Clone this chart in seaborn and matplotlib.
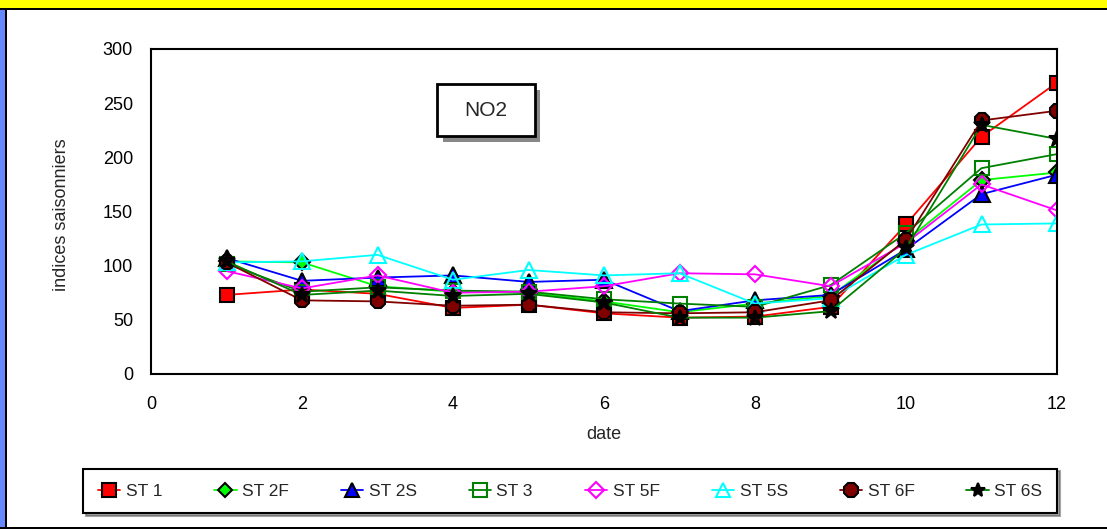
import matplotlib
matplotlib.use("Agg")
import matplotlib.pyplot as plt
import matplotlib.patheffects as pe
from matplotlib.patches import Rectangle
import seaborn as sns
import pandas as pd

months = [1, 2, 3, 4, 5, 6, 7, 8, 9, 10, 11, 12]
st1 = [73, 78, 74, 61, 64, 56, 52, 53, 62, 138, 219, 269]
st2f = [104, 103, 81, 76, 75, 67, 57, 65, 72, 123, 179, 186]
st2s = [107, 86, 89, 91, 85, 87, 58, 68, 73, 115, 166, 184]
st3 = [102, 76, 80, 77, 76, 69, 65, 62, 82, 130, 190, 203]
st5f = [95, 79, 91, 75, 76, 81, 93, 92, 81, 121, 175, 151]
st5s = [103, 104, 110, 87, 96, 91, 93, 65, 70, 110, 138, 139]
st6f = [103, 68, 67, 63, 64, 57, 56, 57, 68, 124, 234, 243]
st6s = [104, 73, 77, 72, 74, 66, 52, 52, 58, 116, 230, 217]

labels = ["ST 1", "ST 2F", "ST 2S", "ST 3", "ST 5F", "ST 5S", "ST 6F", "ST 6S"]
series = [st1, st2f, st2s, st3, st5f, st5s, st6f, st6s]
yticks = [0, 50, 100, 150, 200, 250, 300]
xticks = [0, 2, 4, 6, 8, 10, 12]

styles = [
    dict(color="#ff0000", marker="s", mfc="#ff0000", mec="black", ms=10.5),
    dict(color="#00ff00", marker="D", mfc="#00ff00", mec="black", ms=8),
    dict(color="#0000ff", marker="^", mfc="#0000ff", mec="black", ms=11),
    dict(color="#008000", marker="s", mfc="none", mec="#008000", ms=10.5),
    dict(color="#ff00ff", marker="D", mfc="none", mec="#ff00ff", ms=8.5),
    dict(color="#00ffff", marker="^", mfc="none", mec="#00ffff", ms=11),
    dict(color="#800000", marker="8", mfc="#800000", mec="black", ms=11.5),
    dict(color="#008000", marker="*", mfc="black", mec="black", ms=12),
]

sns.set_style("white")
plt.rcParams["font.family"] = ["Liberation Sans", "DejaVu Sans"]

fig = plt.figure(figsize=(11.07, 5.29), dpi=100)
fig.patch.set_facecolor("white")
ax = fig.add_axes([151 / 1107, 1 - 374 / 529, 906 / 1107, 325 / 529])

for lab, vals, st in zip(labels, series, styles):
    sns.lineplot(x=months, y=vals, ax=ax, label=lab, linewidth=1.3,
                 color=st["color"], marker=st["marker"],
                 markerfacecolor=st["mfc"], markeredgecolor=st["mec"],
                 markersize=st["ms"], markeredgewidth=1.5)

ax.set_xlim(0, 12)
ax.set_ylim(0, 300)
ax.set_xticks(xticks)
ax.set_yticks(yticks)
ax.set_xticklabels([str(v) for v in xticks])
ax.set_yticklabels([str(v) for v in yticks])
ax.tick_params(axis="y", direction="in", length=11, width=1.5, pad=13, labelsize=13, colors="black")
ax.tick_params(axis="x", direction="in", length=9, width=1.5, pad=16, labelsize=13, colors="black")
for sp in ax.spines.values():
    sp.set_visible(True)
    sp.set_color("black")
    sp.set_linewidth(1.5)
ax.grid(False)

ax.set_ylabel("indices saisonniers", fontsize=13)
ax.yaxis.set_label_coords(-0.089, 0.49)
ax.set_xlabel("date", fontsize=13)
ax.xaxis.set_label_coords(0.5, -0.16)

# NO2 label box
box = Rectangle((0.3157, 0.732), 0.108, 0.16, transform=ax.transAxes,
                facecolor="white", edgecolor="black", linewidth=2, zorder=5)
box.set_path_effects([pe.SimplePatchShadow(offset=(4, -4), shadow_rgbFace="#888888", alpha=1.0), pe.Normal()])
ax.add_patch(box)
ax.text(0.37, 0.812, "NO2", transform=ax.transAxes, ha="center", va="center",
        fontsize=15, zorder=6)

handles, hlabels = ax.get_legend_handles_labels()
ax.get_legend().remove()
leg = fig.legend(handles, hlabels, loc="center", ncol=8, mode="expand",
                 bbox_to_anchor=(83 / 1107, 1 - 512 / 529, 974 / 1107, 42 / 529),
                 borderaxespad=0, frameon=True, fancybox=False, shadow=True,
                 edgecolor="black", fontsize=12.5, handlelength=1.3, handletextpad=0.3,
                 borderpad=0.85, markerscale=0.9)
leg.get_frame().set_linewidth(1.5)
leg.get_frame().set_facecolor("white")

# outer decoration
fig.add_artist(Rectangle((0, 1 - 8 / 529), 1, 8 / 529, transform=fig.transFigure,
                         facecolor="#ffff00", edgecolor="none"))
fig.add_artist(Rectangle((0, 1 - 9.5 / 529), 1, 1.5 / 529, transform=fig.transFigure,
                         facecolor="black", edgecolor="none"))
fig.add_artist(Rectangle((0, 0), 5 / 1107, 1 - 9.5 / 529, transform=fig.transFigure,
                         facecolor="#6688ff", edgecolor="none"))
fig.add_artist(Rectangle((5 / 1107, 0), 1.5 / 1107, 1 - 9.5 / 529, transform=fig.transFigure,
                         facecolor="black", edgecolor="none"))
fig.add_artist(Rectangle((0, 0), 1, 2 / 529, transform=fig.transFigure,
                         facecolor="black", edgecolor="none"))

fig.savefig("out.png", dpi=100)
